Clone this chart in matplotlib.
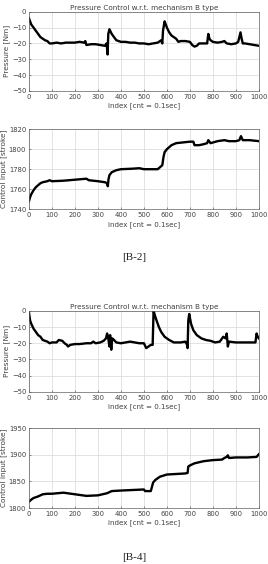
import matplotlib
matplotlib.use("Agg")
from matplotlib import pyplot as plt

# [B-2] pressure
p2_idx = [0, 5, 10, 20, 30, 40, 50, 60, 70, 80, 90, 100, 120, 140, 160, 180, 200, 220, 240, 245, 250,
          270, 290, 310, 330, 338, 342, 345, 350, 360, 370, 380, 400, 420, 440, 460, 480, 500, 520, 540,
          560, 575, 580, 583, 590, 595, 600, 610, 620, 630, 640, 650, 660, 680, 700, 710, 720, 730, 740,
          760, 775, 780, 785, 790, 800, 820, 840, 850, 860, 880, 900, 910, 920, 925, 930, 940, 960, 980, 1000]
p2_val = [-4, -6, -8, -10, -12, -14, -16, -17, -18, -18.5, -20, -20, -19.5, -20, -19.5, -19.5, -19.5, -19, -19.5, -18.5, -21,
          -20.5, -20.5, -21, -21.5, -20, -27, -14, -11, -14, -16, -18, -19, -19, -19.5, -19.5, -20, -20, -20.5, -20,
          -19.5, -18, -20, -12, -6, -8, -10, -13, -15, -16, -17, -19, -18.5, -18.5, -19, -21, -22, -21.5, -20,
          -20, -20, -14, -17, -18, -19, -19.5, -19, -18.5, -20, -20.5, -20, -19, -13, -17, -20, -20, -20.5, -21, -21.5]

# [B-2] control input
c2_idx = [0, 5, 10, 20, 30, 40, 50, 60, 80, 90, 100, 150, 200, 250, 260, 300, 330, 340, 343, 346, 350, 360,
          380, 400, 450, 480, 500, 540, 560, 570, 580, 585, 590, 600, 620, 640, 660, 700, 715, 720, 740, 760,
          775, 780, 790, 820, 850, 870, 900, 915, 922, 930, 960, 1000]
c2_val = [1748, 1752, 1755, 1759, 1762, 1764, 1766, 1767, 1768, 1769, 1768, 1768.5, 1769.5, 1770.5, 1769, 1768, 1767, 1766, 1763, 1770, 1774, 1777,
          1779, 1780, 1780.5, 1781, 1780, 1780, 1780, 1782, 1784, 1792, 1797, 1800, 1804, 1806, 1806.5, 1807.5, 1807.5, 1804, 1804, 1805,
          1806, 1809, 1806, 1808, 1809, 1808, 1808, 1809, 1813, 1809, 1809, 1808]

# [B-4] pressure
p4_idx = [0, 5, 10, 20, 30, 40, 50, 60, 70, 80, 90, 100, 120, 130, 145, 155, 165, 170, 180, 200, 220, 250,
          270, 280, 290, 310, 325, 335, 340, 345, 350, 353, 358, 362, 370, 380, 400, 420, 440, 460, 480, 500,
          510, 520, 530, 538, 542, 548, 555, 565, 575, 590, 610, 630, 660, 680, 688, 690, 693, 697, 705, 715,
          730, 750, 770, 790, 810, 830, 845, 855, 860, 865, 870, 900, 950, 985, 990, 995, 1000]
p4_val = [-1, -6, -8, -11, -13, -15, -16, -18, -18.5, -19, -20, -19.5, -19.5, -18, -18.5, -20, -21, -22, -21, -20.5, -20.5, -20,
          -20, -19, -20, -19.5, -18.5, -17, -14, -17, -22, -15, -24, -17, -18, -19.5, -20, -19.5, -19, -19.5, -20, -20,
          -23, -22, -21, -21, 0, -3, -6, -10, -13, -16, -18, -19.5, -19.5, -19, -21, -23, -6, -2, -8, -12,
          -15, -17, -18, -18.5, -19.5, -19, -16, -17, -14, -22, -19, -19.5, -19.5, -19.5, -14, -16, -17]

# [B-4] control input
c4_idx = [0, 10, 20, 40, 60, 80, 100, 150, 200, 250, 300, 330, 340, 350, 360, 400, 450, 500, 505, 530, 535,
          540, 550, 570, 600, 640, 680, 690, 693, 700, 720, 760, 800, 840, 850, 860, 865, 870, 900, 950, 990, 1000]
c4_val = [1812, 1816, 1819, 1822, 1826, 1827, 1827, 1829, 1826, 1823, 1824, 1827, 1828, 1830, 1832, 1833, 1834, 1835, 1832, 1832, 1840,
          1848, 1853, 1859, 1863, 1864, 1865, 1866, 1878, 1880, 1884, 1888, 1890, 1891, 1894, 1896, 1899, 1894, 1895, 1895, 1896, 1901]

txt = '#404040'
xticks = list(range(0, 1001, 100))

fig = plt.figure(figsize=(2.68, 5.64), dpi=100)
fig.patch.set_facecolor('white')

def style(ax, ylabel, yticks, title=None):
    ax.set_xlim(0, 1000)
    ax.set_ylim(yticks[0], yticks[-1])
    ax.set_xticks(xticks)
    ax.set_yticks(yticks)
    ax.grid(True, color='#d8d8d8', linewidth=0.5)
    ax.set_axisbelow(True)
    ax.tick_params(direction='in', labelsize=4.9, colors=txt, length=1.5, width=0.4, pad=2)
    for s in ax.spines.values():
        s.set_color('#606060')
        s.set_linewidth(0.5)
    ax.set_xlabel('index [cnt = 0.1sec]', fontsize=5.1, color=txt, labelpad=2)
    ax.set_ylabel(ylabel, fontsize=5.3, color=txt, labelpad=1)
    if title:
        ax.set_title(title, fontsize=5.2, color=txt, pad=1.5)

ax1 = fig.add_axes([0.108, 0.839, 0.858, 0.140])
ax1.plot(p2_idx, p2_val, color='black', linewidth=1.7)
style(ax1, 'Pressure [Nm]', [-50, -40, -30, -20, -10, 0], 'Pressure Control w.r.t. mechanism B type')

ax2 = fig.add_axes([0.108, 0.629, 0.858, 0.142])
ax2.plot(c2_idx, c2_val, color='black', linewidth=1.7)
style(ax2, 'Control input [stroke]', [1740, 1760, 1780, 1800, 1820])

ax3 = fig.add_axes([0.108, 0.305, 0.858, 0.144])
ax3.plot(p4_idx, p4_val, color='black', linewidth=1.7)
style(ax3, 'Pressure [Nm]', [-50, -40, -30, -20, -10, 0], 'Pressure Control w.r.t. mechanism B type')

ax4 = fig.add_axes([0.108, 0.099, 0.858, 0.142])
ax4.plot(c4_idx, c4_val, color='black', linewidth=1.7)
style(ax4, 'Control input [stroke]', [1800, 1850, 1900, 1950])

fig.text(0.5, 1 - 258 / 564, '[B-2]', ha='center', va='center', fontsize=8, family='Liberation Serif', color='#202020')
fig.text(0.5, 1 - 557 / 564, '[B-4]', ha='center', va='center', fontsize=8, family='Liberation Serif', color='#202020')

fig.savefig('out.png', dpi=100, facecolor='white')
